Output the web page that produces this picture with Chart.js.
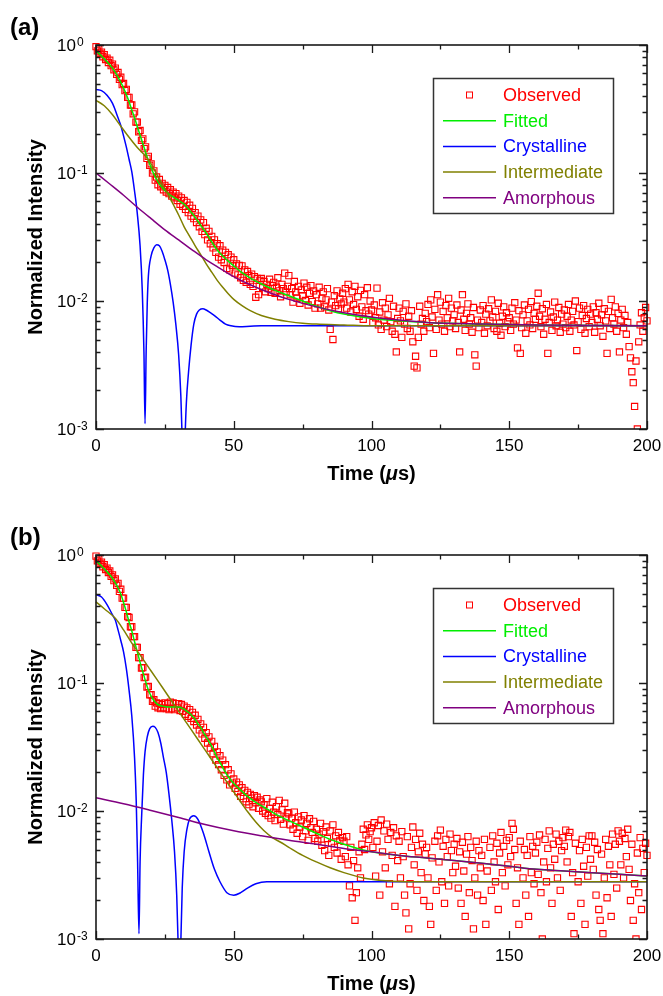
<!DOCTYPE html>
<html>
<head>
<meta charset="utf-8">
<script src="https://cdn.jsdelivr.net/npm/chart.js@4.4.0/dist/chart.umd.min.js"></script>
<style>
  body { margin: 0; background: #fff; }
  canvas { display: block; }
</style>
</head>
<body>
<canvas id="chartA" width="663" height="486"></canvas>
<canvas id="chartB" width="663" height="510"></canvas>
<script>
// Observed points are sampled every 0.5 us from 0 to 200 us
const obsStep = 0.5;

const observedA = [
  0.97,0.90,0.93,0.86,0.88,0.81,0.84,0.77,0.79,0.73,0.76,0.69,0.71,0.64,0.66,0.59,0.61,0.54,0.56,0.49,
  0.50,0.44,0.45,0.39,0.39,0.34,0.34,0.29,0.30,0.25,0.25,0.21,0.215,0.18,0.185,0.155,0.16,0.13,0.135,0.115,
  0.118,0.100,0.104,0.088,0.093,0.081,0.089,0.078,0.083,0.074,0.080,0.071,0.077,0.069,0.074,0.066,0.071,0.064,0.069,0.061,
  0.066,0.057,0.064,0.055,0.061,0.052,0.059,0.049,0.056,0.046,0.053,0.044,0.049,0.041,0.046,0.038,0.043,0.035,0.041,0.033,
  0.037,0.030,0.035,0.028,0.032,0.026,0.030,0.024,0.028,0.022,0.027,0.021,0.025,0.020,0.024,0.018,0.023,0.0175,0.022,0.019,
  0.021,0.0165,0.0195,0.016,0.019,0.0152,0.0188,0.0145,0.0175,0.014,0.017,0.0158,0.0135,0.0162,0.013,0.0155,0.0107,0.015,0.0112,0.0145,
  0.0150,0.0128,0.0142,0.0118,0.0135,0.0125,0.0148,0.0117,0.0132,0.0140,0.0115,0.0128,0.0152,0.0120,0.0108,0.0135,0.0125,0.0165,0.0118,0.0130,
  0.0158,0.0112,0.0125,0.0098,0.0142,0.0118,0.0105,0.0130,0.0096,0.0122,0.0110,0.0138,0.0101,0.0128,0.0093,0.0115,0.0132,0.0099,0.0120,0.0088,
  0.0112,0.0095,0.0128,0.0088,0.0105,0.0118,0.0090,0.0102,0.0125,0.0085,0.0060,0.0098,0.0050,0.0110,0.0092,0.0120,0.0087,0.0104,0.0095,0.0115,
  0.0098,0.0125,0.0088,0.0135,0.0102,0.0082,0.0118,0.0094,0.0130,0.0086,0.0108,0.0076,0.0121,0.0090,0.0072,0.0112,0.0084,0.0127,0.0079,0.0100,
  0.0085,0.0068,0.0093,0.0074,0.0126,0.0065,0.0082,0.0060,0.0097,0.0071,0.0088,0.0063,0.0078,0.0105,0.0069,0.0058,0.0091,0.0055,0.0040,0.0073,
  0.0088,0.0070,0.0052,0.0083,0.0066,0.0095,0.0061,0.0076,0.0058,0.0084,0.0048,0.0031,0.0037,0.0030,0.0052,0.0091,0.0066,0.0073,0.0058,0.0080,
  0.0069,0.0094,0.0062,0.0102,0.0075,0.0039,0.0086,0.0060,0.0112,0.0071,0.0098,0.0066,0.0083,0.0058,0.0092,0.0074,0.0105,0.0063,0.0088,0.0070,
  0.0078,0.0061,0.0093,0.0068,0.0040,0.0085,0.0112,0.0072,0.0059,0.0080,0.0095,0.0066,0.0074,0.0057,0.0089,0.0038,0.0031,0.0071,0.0062,0.0085,
  0.0068,0.0092,0.0056,0.0079,0.0064,0.0087,0.0070,0.0102,0.0075,0.0061,0.0083,0.0058,0.0096,0.0067,0.0054,0.0076,0.0090,0.0063,0.0081,0.0069,
  0.0074,0.0059,0.0088,0.0066,0.0097,0.0071,0.0043,0.0084,0.0039,0.0062,0.0078,0.0093,0.0056,0.0070,0.0086,0.0065,0.0099,0.0061,0.0080,0.0072,
  0.0091,0.0115,0.0076,0.0063,0.0087,0.0055,0.0072,0.0094,0.0039,0.0068,0.0082,0.0059,0.0075,0.0098,0.0064,0.0071,0.0089,0.0057,0.0079,0.0066,
  0.0085,0.0062,0.0076,0.0094,0.0058,0.0071,0.0083,0.0065,0.0100,0.0041,0.0069,0.0088,0.0060,0.0077,0.0092,0.0056,0.0073,0.0086,0.0063,0.0079,
  0.0068,0.0090,0.0057,0.0081,0.0072,0.0096,0.0064,0.0078,0.0053,0.0087,0.0070,0.0039,0.0083,0.0061,0.0103,0.0074,0.0066,0.0090,0.0058,0.0080,
  0.0040,0.0071,0.0086,0.0062,0.0077,0.0055,0.0068,0.0044,0.0036,0.0028,0.0023,0.0015,0.0034,0.0010,0.0048,0.0065,0.0081,0.0058,0.0074,0.0089,
  0.0070
];

const observedB = [
  0.98,0.90,0.93,0.86,0.88,0.81,0.84,0.77,0.79,0.73,0.75,0.68,0.70,0.63,0.65,0.58,0.60,0.52,0.54,0.46,
  0.46,0.39,0.39,0.33,0.325,0.275,0.275,0.23,0.23,0.19,0.19,0.158,0.158,0.131,0.132,0.110,0.111,0.093,0.094,0.081,
  0.081,0.072,0.074,0.066,0.070,0.064,0.069,0.063,0.068,0.064,0.070,0.063,0.069,0.062,0.071,0.063,0.070,0.062,0.069,0.064,
  0.069,0.061,0.068,0.060,0.066,0.057,0.064,0.055,0.062,0.053,0.059,0.050,0.056,0.047,0.052,0.043,0.048,0.040,0.045,0.037,
  0.041,0.034,0.038,0.031,0.035,0.028,0.032,0.025,0.029,0.023,0.027,0.021,0.025,0.019,0.023,0.0175,0.021,0.016,0.0195,0.0165,
  0.0178,0.0150,0.0168,0.0142,0.0160,0.0130,0.0152,0.0125,0.0145,0.0118,0.0140,0.0112,0.0135,0.0126,0.0108,0.0132,0.0116,0.0128,0.0105,0.0122,
  0.0118,0.0100,0.0112,0.0096,0.0125,0.0092,0.0105,0.0088,0.0117,0.0098,0.0084,0.0108,0.0094,0.0121,0.0086,0.0102,0.0079,0.0115,0.0090,0.0097,
  0.0095,0.0078,0.0088,0.0072,0.0098,0.0081,0.0067,0.0090,0.0075,0.0085,0.0063,0.0092,0.0070,0.0080,0.0059,0.0087,0.0074,0.0068,0.0083,0.0061,
  0.0072,0.0058,0.0066,0.0080,0.0054,0.0069,0.0049,0.0075,0.0061,0.0045,0.0070,0.0056,0.0078,0.0052,0.0064,0.0047,0.0068,0.0059,0.0042,0.0062,
  0.0058,0.0044,0.0063,0.0038,0.0026,0.0052,0.0021,0.0041,0.0014,0.0023,0.0036,0.0048,0.0030,0.0055,0.0072,0.0050,0.0065,0.0078,0.0060,0.0069,
  0.0074,0.0052,0.0081,0.0031,0.0058,0.0077,0.0022,0.0085,0.0048,0.0070,0.0036,0.0079,0.0060,0.0027,0.0068,0.0045,0.0074,0.0018,0.0064,0.0041,
  0.0058,0.0030,0.0069,0.0044,0.0022,0.0016,0.0063,0.0012,0.0027,0.0052,0.0075,0.0038,0.0060,0.0024,0.0048,0.0067,0.0033,0.0055,0.0020,0.0046,
  0.0052,0.0030,0.0018,0.0013,0.0043,0.0009,0.0058,0.0024,0.0064,0.0040,0.0071,0.0028,0.0053,0.0019,0.0060,0.0044,0.0026,0.0066,0.0049,0.0033,
  0.0055,0.0037,0.0061,0.0025,0.0048,0.0019,0.0057,0.0034,0.0015,0.0046,0.0063,0.0023,0.0052,0.0041,0.0012,0.0030,0.0058,0.0022,0.0049,0.0036,
  0.0045,0.0020,0.0060,0.0013,0.0034,0.0009,0.0052,0.0024,0.0064,0.0040,0.0028,0.0056,0.0017,0.0047,0.0068,0.0033,0.0053,0.0026,0.0059,0.0038,
  0.0062,0.0044,0.0080,0.0072,0.0050,0.0019,0.0036,0.0013,0.0058,0.0009,0.0030,0.0050,0.0022,0.0045,0.0015,0.0063,0.0033,0.0053,0.0027,0.0047,
  0.0057,0.0032,0.0065,0.0023,0.0010,0.0040,0.0060,0.0028,0.0051,0.0070,0.0036,0.0019,0.0055,0.0042,0.0066,0.0030,0.0058,0.0024,0.0049,0.0062,
  0.0053,0.0071,0.0040,0.0063,0.0068,0.0015,0.0033,0.0011,0.0056,0.0009,0.0028,0.0049,0.0019,0.0060,0.0037,0.0013,0.0052,0.0031,0.0064,0.0042,
  0.0064,0.0035,0.0057,0.0022,0.0050,0.0017,0.0014,0.0046,0.0011,0.0030,0.0060,0.0021,0.0053,0.0038,0.0015,0.0066,0.0032,0.0055,0.0025,0.0070,
  0.0058,0.0038,0.0067,0.0030,0.0061,0.0044,0.0072,0.0035,0.0020,0.0055,0.0014,0.0027,0.0010,0.0047,0.0023,0.0062,0.0017,0.0051,0.0033,0.0056,
  0.0045
];

// Fitted curve and its three components, panel (a)
const fitTimesA = [0,1,2,3,4,5,6,7,8,9,10,11,12,13,14,15,16,17,18,19,20,21,22,23,24,25,26,27,28,29,30,31,32,33,34,35,36,37,38,40,42,44,46,48,50,52,55,58,61,65,70,75,80,85,90,100,110,120,140,160,200];
const fittedA = [0.9,0.86,0.82,0.78,0.74,0.7,0.66,0.61,0.56,0.51,0.46,0.41,0.36,0.31,0.27,0.23,0.198,0.17,0.145,0.125,0.11,0.098,0.089,0.082,0.077,0.073,0.07,0.067,0.065,0.063,0.061,0.059,0.057,0.054,0.051,0.048,0.045,0.042,0.039,0.034,0.029,0.025,0.0225,0.0205,0.0188,0.0173,0.0156,0.0143,0.0133,0.0121,0.011,0.01,0.0091,0.0084,0.0079,0.0073,0.007,0.0068,0.0066,0.0065,0.0064];

const crystTimesA = [0,2,4,6,8,9,10,11,12,13,14,15,16,16.8,17.4,17.8,18.2,18.6,19,20,21,22,23,24,25,26,27,28,29,30,30.8,31.4,31.8,32.2,32.8,33.6,34.5,35.5,36.5,37.5,38.8,40,41.5,43,45,47,49,52,56,60,80,120,160,200];
const crystallineA = [0.45,0.44,0.405,0.35,0.27,0.235,0.195,0.16,0.128,0.102,0.072,0.048,0.027,0.012,0.004,0.0011,0.004,0.0095,0.0155,0.0225,0.026,0.0275,0.027,0.0245,0.021,0.0175,0.0135,0.0098,0.0065,0.0038,0.0018,0.0007,0.0003,0.0007,0.0016,0.0028,0.0045,0.0066,0.0079,0.0085,0.0087,0.0085,0.0081,0.0077,0.0071,0.0066,0.0064,0.0063,0.00635,0.0064,0.0064,0.0064,0.0064,0.0064];

const interTimesA = [0,3,6,9,12,15,18,20,22,24,26,28,30,32,34,36,38,40,42,44,46,48,50,53,56,60,65,70,75,80,90,100,200];
const intermediateA = [0.37,0.335,0.285,0.232,0.19,0.158,0.135,0.118,0.098,0.082,0.069,0.057,0.047,0.038,0.032,0.027,0.023,0.0195,0.0168,0.0145,0.0128,0.0114,0.0103,0.0092,0.0084,0.0077,0.0072,0.0069,0.0067,0.0066,0.0065,0.0064,0.0064];

const amorTimesA = [0,5,10,15,20,25,30,35,40,45,50,55,60,65,70,80,90,100,110,120,140,160,200];
const amorphousA = [0.1,0.082,0.067,0.054,0.044,0.036,0.03,0.025,0.021,0.018,0.0155,0.0137,0.0123,0.0112,0.0103,0.009,0.0081,0.0075,0.0071,0.0068,0.0066,0.0065,0.0064];

// Fitted curve and its three components, panel (b)
const fitTimesB = [0,1,2,3,4,5,6,7,8,9,10,11,12,13,14,15,16,17,18,19,20,21,22,23,24,26,28,30,31,32,33,34,35,36,37,38,39,40,41,42,43,44,45,46,47,48,50,52,55,58,61,65,70,75,80,85,90,95,100,110,120,130,140,150,160,170,180,190,200];
const fittedB = [0.9,0.86,0.82,0.78,0.74,0.7,0.655,0.605,0.555,0.495,0.425,0.36,0.3,0.255,0.21,0.175,0.145,0.122,0.103,0.088,0.079,0.073,0.069,0.067,0.066,0.065,0.065,0.065,0.064,0.0625,0.06,0.058,0.055,0.052,0.048,0.045,0.041,0.038,0.035,0.032,0.029,0.026,0.024,0.0218,0.02,0.0185,0.0164,0.0149,0.013,0.0117,0.0107,0.0095,0.0084,0.0075,0.0067,0.006,0.0055,0.0051,0.0048,0.0045,0.0043,0.0041,0.0039,0.0037,0.0035,0.0034,0.0033,0.0032,0.0031];

const crystTimesB = [0,2,4,6,7,8,9,10,11,12,13,14,14.6,15.1,15.6,16,16.6,17.2,17.8,18.6,19.5,20.6,21.5,22.5,23.5,24.5,25.5,26.5,27.5,28.5,29.3,29.9,30.3,30.7,31.3,32,33,34,35.5,37,39,41,43,45,47.5,50,52.5,55,58,62,70,200];
const crystallineB = [0.49,0.47,0.41,0.34,0.31,0.26,0.215,0.175,0.13,0.088,0.055,0.026,0.012,0.004,0.0011,0.004,0.0095,0.019,0.029,0.038,0.044,0.046,0.045,0.041,0.034,0.026,0.02,0.0135,0.0085,0.0048,0.0022,0.0008,0.0003,0.0008,0.0025,0.0048,0.0072,0.0087,0.0092,0.0086,0.0067,0.0048,0.0035,0.0028,0.0023,0.0022,0.0023,0.0025,0.0027,0.0028,0.0028,0.0028];

const interTimesB = [0,3,7,10,13,16,20,24,28,31,34,37,40,43,46,49,52,55,58,61,64,67,70,75,80,85,90,97,105,115,200];
const intermediateB = [0.43,0.38,0.32,0.26,0.205,0.166,0.124,0.093,0.0695,0.0559,0.045,0.0362,0.0291,0.0234,0.0188,0.0151,0.0122,0.0099,0.0082,0.007,0.0062,0.0057,0.0052,0.0045,0.004,0.0036,0.0033,0.003,0.00285,0.0028,0.0028];

const amorTimesB = [0,10,20,30,40,50,60,70,80,90,100,110,120,130,140,150,160,170,180,190,200];
const amorphousB = [0.0127,0.0114,0.0101,0.0089,0.0078,0.007,0.0064,0.0059,0.0055,0.0051,0.0048,0.0045,0.0043,0.0041,0.0039,0.0037,0.0035,0.0034,0.0033,0.0032,0.0031];

// Axis ticks
const xMajor = [0, 50, 100, 150, 200];
const xMinor = [25, 75, 125, 175];
const yMajor = [1, 0.1, 0.01, 0.001];
const yExponents = ['0', '-1', '-2', '-3'];

const FONT = '"Liberation Sans", Arial, sans-serif';
const colors = {
    observed: '#ff0000',
    fitted: '#00ee00',
    crystalline: '#0000ff',
    intermediate: '#808000',
    amorphous: '#800080'
};

function pairs(times, values) {
    return times.map((t, i) => ({ x: t, y: values[i] }));
}

function curve(label, times, values, color, order) {
    return {
        label: label,
        data: pairs(times, values),
        showLine: true,
        borderColor: color,
        backgroundColor: color,
        borderWidth: 1.5,
        pointRadius: 0,
        cubicInterpolationMode: 'monotone',
        order: order,
        clip: { left: 2, top: 2, right: 2, bottom: 0 }
    };
}

// Draws frame, inward ticks, tick labels, axis titles, panel letter and legend
const decorations = {
    id: 'decorations',
    afterDraw(chart, args, opts) {
        const ctx = chart.ctx;
        const area = chart.chartArea;
        const xs = chart.scales.x, ys = chart.scales.y;
        ctx.save();

        // ticks
        ctx.strokeStyle = '#1a1a1a';
        ctx.lineWidth = 1.3;
        ctx.beginPath();
        xMajor.concat(xMinor).forEach(v => {
            const len = xMajor.includes(v) ? 8 : 4.5;
            const px = Math.round(xs.getPixelForValue(v)) + 0.5;
            ctx.moveTo(px, area.bottom); ctx.lineTo(px, area.bottom - len);
            ctx.moveTo(px, area.top); ctx.lineTo(px, area.top + len);
        });
        [0.001, 0.01, 0.1].forEach(dec => {
            for (let m = 1; m <= 10; m++) {
                const v = dec * m;
                const len = (m === 1 || m === 10) ? 8 : 4.5;
                const py = Math.round(ys.getPixelForValue(v)) + 0.5;
                ctx.moveTo(area.left, py); ctx.lineTo(area.left + len, py);
                ctx.moveTo(area.right, py); ctx.lineTo(area.right - len, py);
            }
        });
        ctx.stroke();

        // frame
        ctx.lineWidth = 1.6;
        ctx.strokeRect(area.left, area.top, area.right - area.left, area.bottom - area.top);

        // x tick labels
        ctx.fillStyle = '#000';
        ctx.font = '17px ' + FONT;
        ctx.textAlign = 'center';
        ctx.textBaseline = 'middle';
        xMajor.forEach(v => ctx.fillText(String(v), xs.getPixelForValue(v), area.bottom + 17));

        // y tick labels 10^n
        yMajor.forEach((v, i) => {
            const py = ys.getPixelForValue(v);
            ctx.font = '17px ' + FONT;
            ctx.textAlign = 'right';
            ctx.textBaseline = 'alphabetic';
            ctx.fillText('10', 76, py + 6);
            ctx.font = '12px ' + FONT;
            ctx.textAlign = 'left';
            ctx.fillText(yExponents[i], 77, py + 1);
        });

        // x title with italic mu
        const cx = (area.left + area.right) / 2;
        const ty = area.bottom + 45;
        const parts = [
            ['Time (', 'bold 20px ' + FONT],
            ['\u03bc', 'italic bold 20px ' + FONT],
            ['s)', 'bold 20px ' + FONT]
        ];
        let total = 0;
        parts.forEach(p => { ctx.font = p[1]; total += ctx.measureText(p[0]).width; });
        let x = cx - total / 2;
        ctx.textAlign = 'left';
        ctx.textBaseline = 'middle';
        parts.forEach(p => { ctx.font = p[1]; ctx.fillText(p[0], x, ty); x += ctx.measureText(p[0]).width; });

        // y title
        ctx.save();
        ctx.translate(36, (area.top + area.bottom) / 2);
        ctx.rotate(-Math.PI / 2);
        ctx.font = 'bold 20px ' + FONT;
        ctx.textAlign = 'center';
        ctx.textBaseline = 'middle';
        ctx.fillText('Normalized Intensity', 0, 0);
        ctx.restore();

        // panel letter
        ctx.font = 'bold 24px ' + FONT;
        ctx.textAlign = 'left';
        ctx.textBaseline = 'middle';
        ctx.fillText(opts.panel, 10, area.top - 17);

        // legend
        const lx = 433.5, ly = area.top + 33.5, lw = 180, lh = 135;
        ctx.fillStyle = '#fff';
        ctx.fillRect(lx, ly, lw, lh);
        ctx.strokeStyle = '#333';
        ctx.lineWidth = 1.5;
        ctx.strokeRect(lx, ly, lw, lh);
        ctx.font = '18px ' + FONT;
        chart.data.datasets.forEach((ds, i) => {
            const y = ly + 16.5 + i * 25.7;
            ctx.strokeStyle = ds.borderColor;
            if (ds.showLine) {
                ctx.lineWidth = 1.5;
                ctx.beginPath();
                ctx.moveTo(443, y); ctx.lineTo(496, y);
                ctx.stroke();
            } else {
                ctx.lineWidth = 1;
                ctx.strokeRect(466.5, y - 3, 6, 6);
            }
            ctx.fillStyle = ds.borderColor;
            ctx.fillText(ds.label, 503, y + 1);
        });

        ctx.restore();
    }
};

function makePanel(canvasId, panel, obs, fit, cryst, inter, amor, padTop) {
    const ctx = document.getElementById(canvasId).getContext('2d');
    return new Chart(ctx, {
        type: 'scatter',
        data: {
            datasets: [
                {
                    label: 'Observed',
                    data: obs.map((v, i) => ({ x: i * obsStep, y: v })),
                    showLine: false,
                    pointStyle: 'rect',
                    pointRadius: 4.4,
                    borderWidth: 1.1,
                    borderColor: colors.observed,
                    backgroundColor: 'rgba(0,0,0,0)',
                    order: 5,
                    clip: { left: 4, top: 4, right: 4, bottom: 0 }
                },
                curve('Fitted', fit[0], fit[1], colors.fitted, 4),
                curve('Crystalline', cryst[0], cryst[1], colors.crystalline, 3),
                curve('Intermediate', inter[0], inter[1], colors.intermediate, 2),
                curve('Amorphous', amor[0], amor[1], colors.amorphous, 1)
            ]
        },
        options: {
            responsive: false,
            animation: false,
            layout: { padding: { left: 96, right: 16, top: padTop, bottom: 57 } },
            scales: {
                x: { type: 'linear', min: 0, max: 200, display: false },
                y: { type: 'logarithmic', min: 0.001, max: 1, display: false }
            },
            plugins: {
                legend: { display: false },
                tooltip: { enabled: false },
                decorations: { panel: panel }
            }
        },
        plugins: [decorations]
    });
}

makePanel('chartA', '(a)', observedA, [fitTimesA, fittedA], [crystTimesA, crystallineA],
    [interTimesA, intermediateA], [amorTimesA, amorphousA], 45);
makePanel('chartB', '(b)', observedB, [fitTimesB, fittedB], [crystTimesB, crystallineB],
    [interTimesB, intermediateB], [amorTimesB, amorphousB], 69);
</script>
</body>
</html>
